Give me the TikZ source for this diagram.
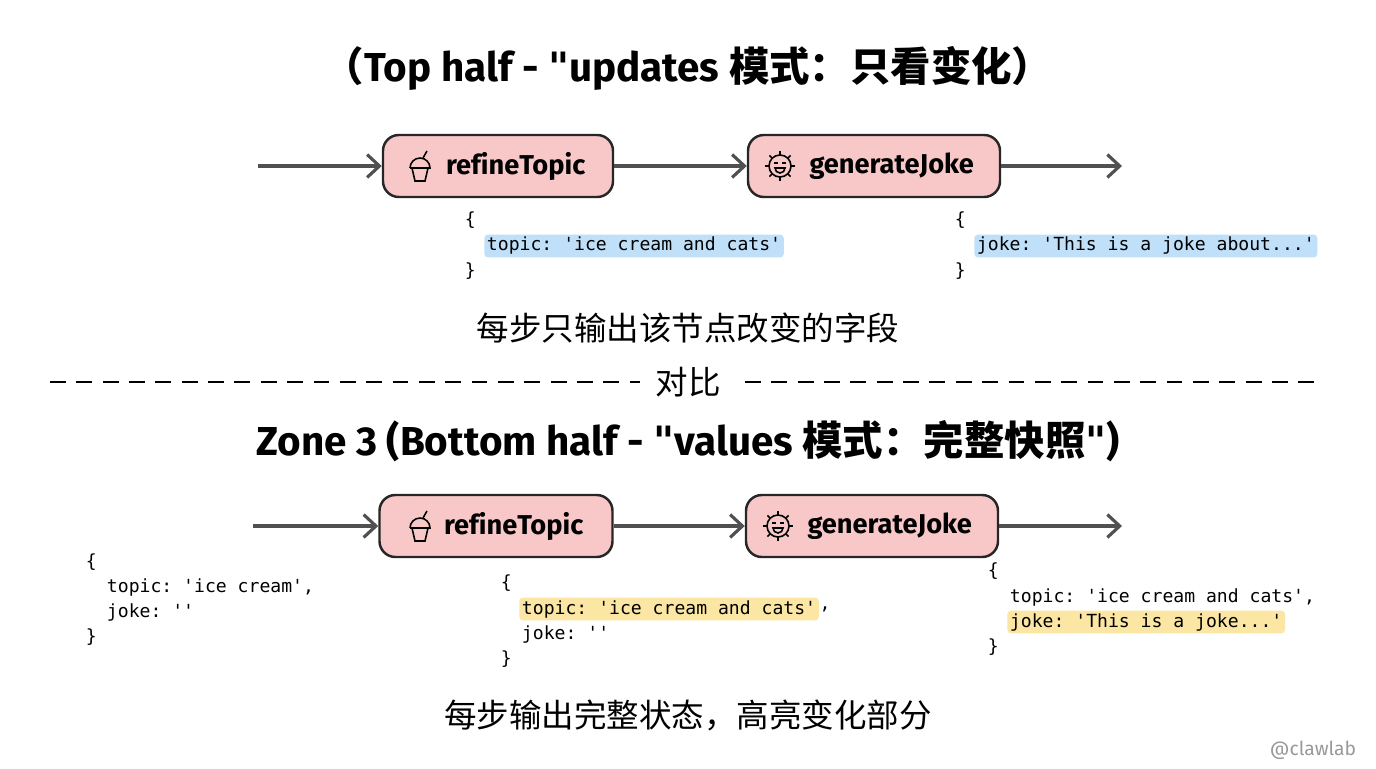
\documentclass[tikz,border=0pt]{standalone}
\usepackage{fontspec}
\setmainfont[Ligatures={NoCommon}]{Fira Sans}
\setmonofont{DejaVu Sans Mono}
\newfontfamily\cjk{Noto Sans CJK SC}
\newfontfamily\qfont{DejaVu Sans}
\usetikzlibrary{arrows.meta,positioning,calc}
\definecolor{nodepink}{HTML}{F8C8C8}
\definecolor{hlblue}{HTML}{BFE0F8}
\definecolor{hlyellow}{HTML}{FBE7A3}
\definecolor{flowgray}{HTML}{505050}
\tikzset{
  stage/.style={draw=black!85,line width=1.4pt,fill=nodepink,rounded corners=9pt,
    minimum height=62*0.02cm,font=\fontsize{15.5}{17}\selectfont\bfseries,inner sep=0pt},
  flow/.style={draw=flowgray,line width=1.8pt,-{Straight Barb[length=7pt,width=13pt,line width=1.8pt]}},
  code/.style={anchor=west,font=\fontsize{10.3}{12}\ttfamily,inner sep=1.5pt},
  hlb/.style={code,fill=hlblue,rounded corners=2pt},
  hly/.style={code,fill=hlyellow,rounded corners=2pt},
  title/.style={font=\fontsize{23}{26}\selectfont\bfseries},
  caption/.style={font=\fontsize{18.5}{22}\selectfont\cjk}
}
\newcommand{\qq}{{\qfont\symbol{34}}}
\newcommand{\cupicon}[1]{%
  \draw[line width=0.9pt] ($#1+(-8,2)$) -- ($#1+(-5,15)$) -- ($#1+(5,15)$) -- ($#1+(8,2)$) -- cycle;
  \draw[line width=0.9pt] ($#1+(-10,2)$) -- ($#1+(10,2)$) arc[start angle=0,end angle=-180,radius=10];
  \draw[line width=0.9pt] ($#1+(3,-8)$) -- ($#1+(7,-15)$);}
\newcommand{\gearicon}[1]{%
  \draw[line width=0.9pt] #1 circle (11);
  \foreach \a in {0,45,...,315} \draw[line width=0.9pt] ($#1+(\a:11)$) -- ($#1+(\a:15)$);
  \draw[line width=0.9pt] ($#1+(-5,2)$) arc[start angle=180,end angle=0,radius=5] -- cycle;
  \draw[line width=0.8pt] ($#1+(-6,-3)$) -- ($#1+(-2,-3)$) ($#1+(2,-3)$) -- ($#1+(6,-3)$);}
\begin{document}
\begin{tikzpicture}[x=0.02cm,y=-0.02cm]
\useasboundingbox (0,0) rectangle (1376,768);
% titles
\node[title] (t1) at (688,68) {{\cjk （}Top half - \qq updates {\cjk 模式：只看变化）}};
\node[title] (t2) at (688,441) {Zone 3 (Bottom half - \qq values {\cjk 模式：完整快照}\qq)};
% top flow
\coordinate (a0) at (258,166);
\node[stage,minimum width=230*0.02cm] (r1) at (498,166) {\hspace*{1.3em}refineTopic};
\node[stage,minimum width=252*0.02cm] (g1) at (874,166) {\hspace*{1.3em}generateJoke};
\coordinate (a1) at (1122,166);
\coordinate (i1) at (420,166);
\coordinate (i2) at (780,166);
\cupicon{(i1)}
\gearicon{(i2)}
\draw[flow] (a0) -- (r1);
\draw[flow] (r1) -- (g1);
\draw[flow] (g1) -- (a1);
% top code
\node[code] (c1a) at (462,220) {\{};
\node[hlb] (c1b) at (484,246) {topic: 'ice cream and cats'};
\node[code] (c1c) at (462,271) {\}};
\node[code] (c2a) at (952,220) {\{};
\node[hlb] (c2b) at (974,246) {joke: 'This is a joke about...'};
\node[code] (c2c) at (952,271) {\}};
\node[caption] (cap1) at (688,328) {每步只输出该节点改变的字段};
% divider
\node[caption] (vs) at (688,382) {对比};
\coordinate (d0) at (50,382);
\coordinate (d1) at (1320,382);
\draw[line width=1.2pt,dash pattern=on 9pt off 6pt] (d0) -- (640,382);
\draw[line width=1.2pt,dash pattern=on 9pt off 6pt] (745,382) -- (d1);
% bottom flow
\coordinate (b0) at (253,526);
\node[stage,minimum width=233*0.02cm] (r2) at (496,526) {\hspace*{1.3em}refineTopic};
\node[stage,minimum width=252*0.02cm] (g2) at (872,526) {\hspace*{1.3em}generateJoke};
\coordinate (b1) at (1122,526);
\coordinate (i3) at (420,526);
\coordinate (i4) at (778,526);
\cupicon{(i3)}
\gearicon{(i4)}
\draw[flow] (b0) -- (r2);
\draw[flow] (r2) -- (g2);
\draw[flow] (g2) -- (b1);
% bottom code
\node[code] (s0a) at (83,562) {\{};
\node[code] (s0b) at (104,587) {topic: 'ice cream',};
\node[code] (s0c) at (104,612) {joke: ''};
\node[code] (s0d) at (83,637) {\}};
\node[code] (s1a) at (498,583) {\{};
\node[hly] (s1b) at (519,609) {topic: 'ice cream and cats'};
\node[code,inner sep=0pt] (s1e) at (s1b.east) {,};
\node[code] (s1c) at (519,634) {joke: ''};
\node[code] (s1d) at (498,659) {\}};
\node[code] (s2a) at (985,571) {\{};
\node[code] (s2b) at (1007,597) {topic: 'ice cream and cats',};
\node[hly] (s2c) at (1007,622) {joke: 'This is a joke...'};
\node[code] (s2d) at (985,647) {\}};
\node[caption] (cap2) at (688,715) {每步输出完整状态，高亮变化部分};
\node[font=\fontsize{11}{13}\selectfont,text=black!40] (mark) at (1313,750) {@clawlab};
\end{tikzpicture}
\end{document}
